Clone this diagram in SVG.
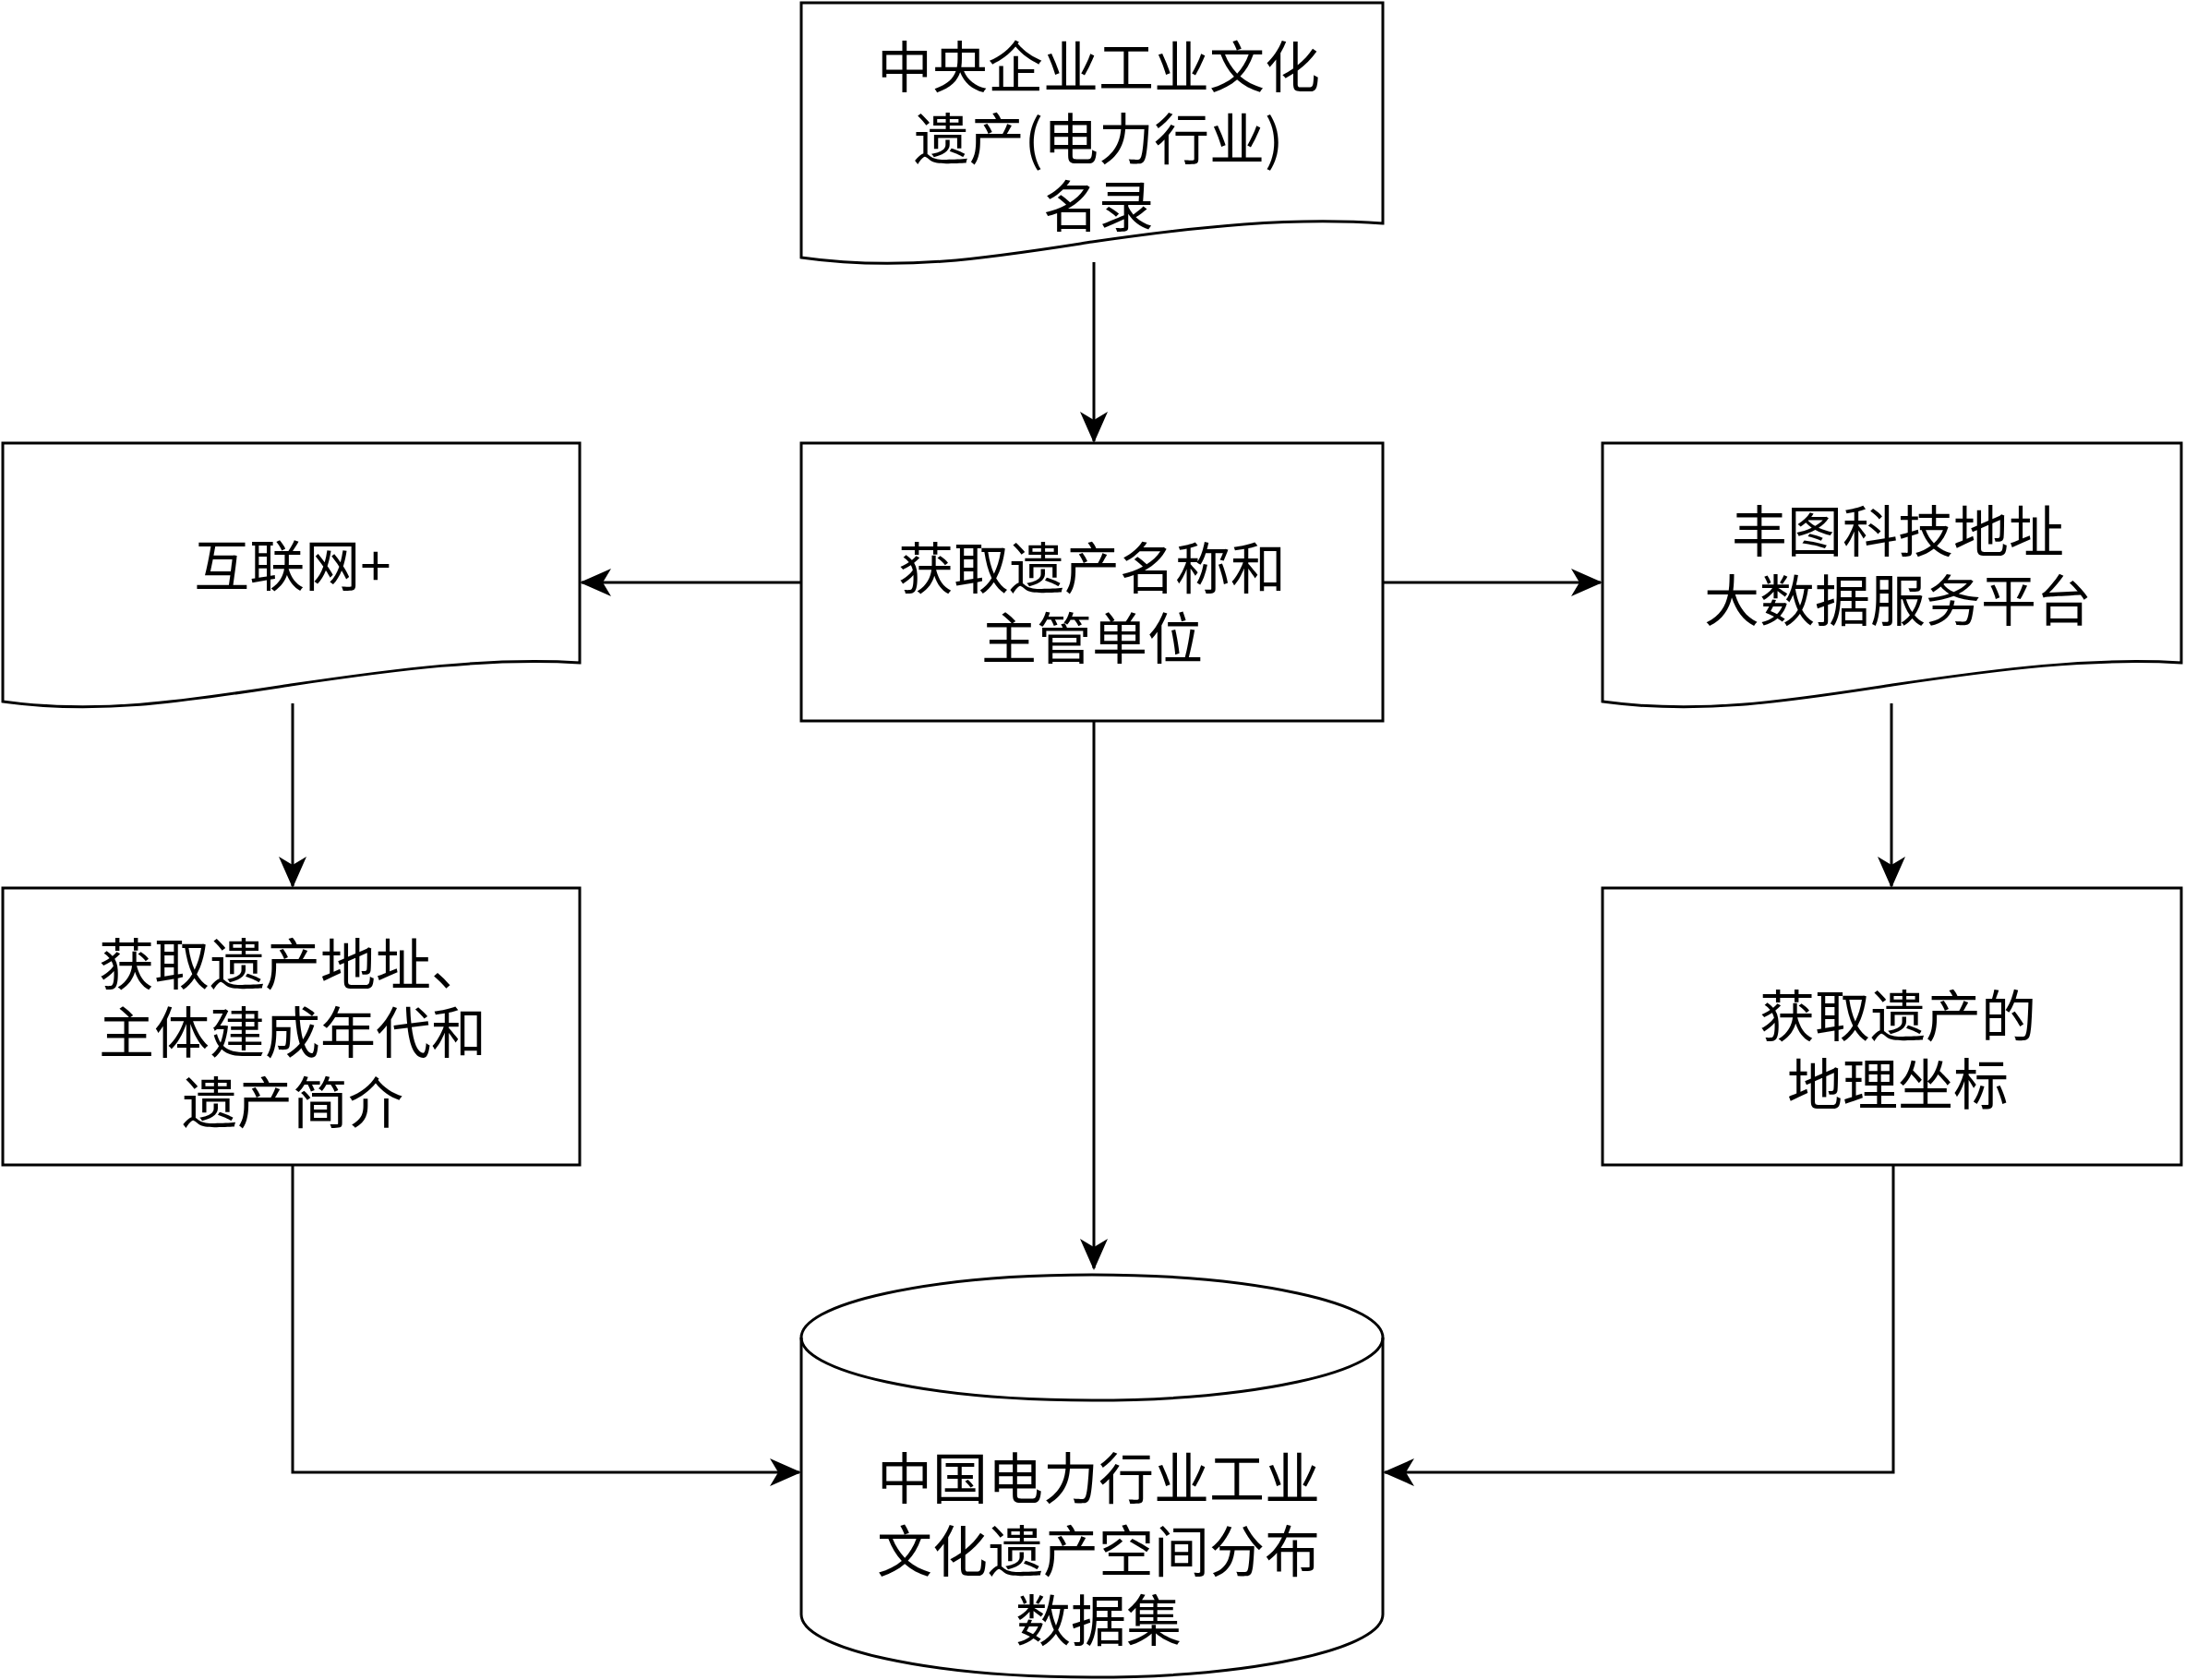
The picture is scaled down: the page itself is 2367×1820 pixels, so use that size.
<svg xmlns="http://www.w3.org/2000/svg" width="2367" height="1820" viewBox="0 0 2367 1820">
<style>
.s{fill:#fff;stroke:#000;stroke-width:3}
.c{fill:none;stroke:#000;stroke-width:3}
text{font-family:"Noto Sans CJK SC","Liberation Serif",serif;font-size:60px;text-anchor:middle;dominant-baseline:central;fill:#000}
</style>
<defs><marker id="a" markerWidth="34" markerHeight="30" refX="32" refY="15" orient="auto" markerUnits="userSpaceOnUse" viewBox="0 0 34 30"><path d="M0,0 L34,15 L0,30 L9,15 Z" fill="#000"/></marker></defs>
<g id="top"><path class="s" d="M868,3 H1498 V242 C1400,235 1300,245 1183,262 C1080,278 980,295 868,279 Z"/>
<text x="1190" y="68">中央企业工业文化</text><text x="1190" y="146">遗产(电力行业)</text><text x="1190" y="219">名录</text></g>
<g id="mid"><rect class="s" x="868" y="480" width="630" height="301"/>
<text x="1183" y="611">获取遗产名称和</text><text x="1183" y="687">主管单位</text></g>
<g id="ldoc"><path class="s" d="M3,480 H628 V718 C530,712 430,725 315,742 C210,758 110,775 3,760 Z"/>
<text x="317" y="608">互联网+</text></g>
<g id="rdoc"><path class="s" d="M1736,480 H2363 V718 C2265,712 2165,725 2050,742 C1945,758 1845,775 1736,760 Z"/>
<text x="2056" y="571">丰图科技地址</text><text x="2056" y="646">大数据服务平台</text></g>
<g id="lbox"><rect class="s" x="3" y="962" width="625" height="300"/>
<text x="317" y="1040">获取遗产地址、</text><text x="317" y="1114">主体建成年代和</text><text x="317" y="1190">遗产简介</text></g>
<g id="rbox"><rect class="s" x="1736" y="962" width="627" height="300"/>
<text x="2056" y="1096">获取遗产的</text><text x="2056" y="1170">地理坐标</text></g>
<g id="db"><path class="s" d="M868,1449 A315,68 0 0 1 1498,1449 V1749 A315,68 0 0 1 868,1749 Z"/>
<path class="c" d="M868,1449 A315,68 0 0 0 1498,1449"/>
<text x="1190" y="1597">中国电力行业工业</text><text x="1190" y="1676">文化遗产空间分布</text><text x="1190" y="1751">数据集</text></g>
<g id="connectors">
<path class="c" d="M1185,284 V478" marker-end="url(#a)"/>
<path class="c" d="M868,631 H630" marker-end="url(#a)"/>
<path class="c" d="M1498,631 H1734" marker-end="url(#a)"/>
<path class="c" d="M1185,781 V1374" marker-end="url(#a)"/>
<path class="c" d="M317,762 V960" marker-end="url(#a)"/>
<path class="c" d="M2049,762 V960" marker-end="url(#a)"/>
<path class="c" d="M317,1262 V1595 H866" marker-end="url(#a)"/>
<path class="c" d="M2051,1262 V1595 H1500" marker-end="url(#a)"/>
</g>
</svg>
